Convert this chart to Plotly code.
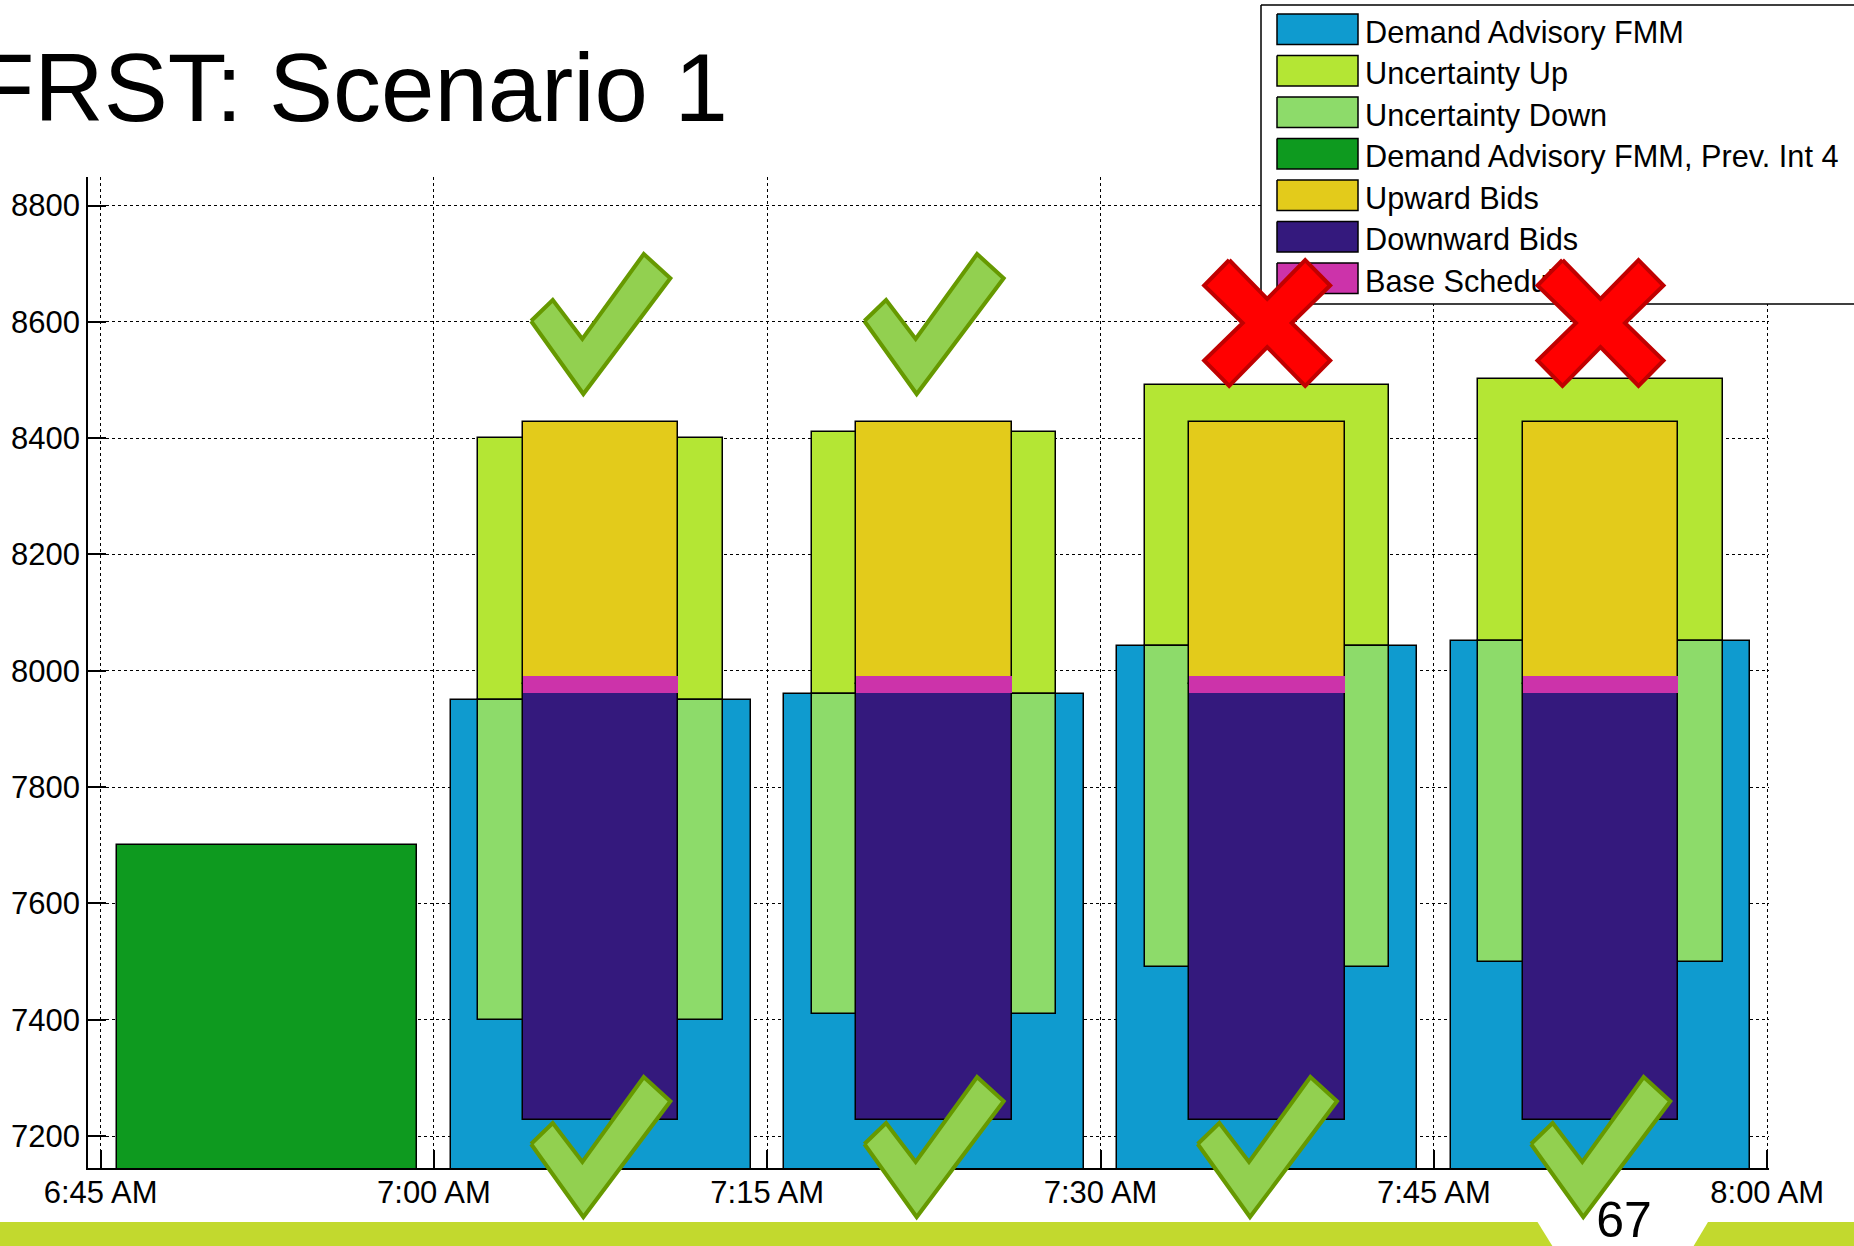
import plotly.graph_objects as go
from datetime import datetime, timedelta

# ---------------------------------------------------------------- data
interval_starts = ["06:45", "07:00", "07:15", "07:30", "07:45"]

# Demand advisory of the previous run (only the first interval)
prev_int4_demand = [7700, None, None, None, None]

# Demand advisory FMM and its uncertainty band (MW)
demand_fmm = [None, 7950, 7960, 8042, 8052]
uncertainty_up = [None, 450, 450, 450, 450]
uncertainty_down = [None, 550, 550, 552, 552]

# Bid stack: downward bids from the floor up to the base schedule,
# upward bids from the base schedule up to the ceiling
downward_bid_floor = [None, 7227, 7227, 7227, 7227]
base_schedule = [None, 7977, 7977, 7977, 7977]
upward_bid_ceiling = [None, 8427, 8427, 8427, 8427]

# Sufficiency test outcome per interval (upward / downward)
upward_test = [None, "pass", "pass", "fail", "fail"]
downward_test = [None, "pass", "pass", "pass", "pass"]

x_tick_times = ["06:45", "07:00", "07:15", "07:30", "07:45", "08:00"]
x_tick_labels = ["6:45 AM", "7:00 AM", "7:15 AM", "7:30 AM", "7:45 AM", "8:00 AM"]
y_tick_values = [7200, 7400, 7600, 7800, 8000, 8200, 8400, 8600, 8800]

legend_labels = [
    "Demand Advisory FMM",
    "Uncertainty Up",
    "Uncertainty Down",
    "Demand Advisory FMM, Prev. Int 4",
    "Upward Bids",
    "Downward Bids",
    "Base Schedule",
]

# ---------------------------------------------------------------- style
W, H = 1854, 1246
FONT = "Liberation Sans, Arial, Helvetica, sans-serif"

C_DEMAND = "#0F9BCF"
C_UNC_UP = "#B4E634"
C_UNC_DN = "#8DDB6A"
C_PREV = "#0E9A1F"
C_UP_BID = "#E3CB1B"
C_DN_BID = "#34197D"
C_BASE = "#CC33AA"
legend_colors = [C_DEMAND, C_UNC_UP, C_UNC_DN, C_PREV, C_UP_BID, C_DN_BID, C_BASE]

C_CHECK_FILL, C_CHECK_LINE = "#92D050", "#669900"
C_CROSS_FILL, C_CROSS_LINE = "#FF0000", "#C00000"
C_BAND = "#C2D92E"

# plot area in page pixels
PL, PR, PT, PB = 88, 1769, 177, 1168
DAY = datetime(2024, 1, 1)
X0 = DAY + timedelta(hours=6, minutes=44, seconds=26)
X1 = DAY + timedelta(hours=8, seconds=5)
Y_RANGE = [7145, 8849]

STEP = timedelta(minutes=15)
W_DEMAND = 13.5 * 60000   # bar widths in ms
W_UNC = 11 * 60000
W_BID = 7 * 60000
BASE_BAND = 29            # MW thickness of the base-schedule marker
EDGE = dict(color="black", width=1.5)


def t(hhmm):
    h, m = hhmm.split(":")
    return DAY + timedelta(hours=int(h), minutes=int(m))


centers = [t(s) + STEP / 2 for s in interval_starts]


def px_x(when):
    return PL + (when - X0) / (X1 - X0) * (PR - PL)


fig = go.Figure()


def add_bar(name, xs, tops, bases, width, color, line=EDGE):
    keep = [i for i, v in enumerate(tops) if v is not None]
    fig.add_trace(go.Bar(
        name=name,
        x=[xs[i] for i in keep],
        y=[tops[i] - bases[i] for i in keep],
        base=[bases[i] for i in keep],
        width=width,
        marker=dict(color=color, line=line),
        opacity=1,
        showlegend=False,
        hoverinfo="skip",
    ))


zeros = [0] * len(centers)
add_bar("Demand Advisory FMM, Prev. Int 4", centers, prev_int4_demand, zeros, W_DEMAND, C_PREV)
add_bar("Demand Advisory FMM", centers, demand_fmm, zeros, W_DEMAND, C_DEMAND)

unc_top = [d + u if d is not None else None for d, u in zip(demand_fmm, uncertainty_up)]
unc_bot = [d - u if d is not None else None for d, u in zip(demand_fmm, uncertainty_down)]
add_bar("Uncertainty Up", centers, unc_top, demand_fmm, W_UNC, C_UNC_UP)
add_bar("Uncertainty Down", centers, demand_fmm, unc_bot, W_UNC, C_UNC_DN)

add_bar("Downward Bids", centers, base_schedule, downward_bid_floor, W_BID, C_DN_BID)
add_bar("Upward Bids", centers, upward_bid_ceiling, base_schedule, W_BID, C_UP_BID)

bs_hi = [b + BASE_BAND / 2 if b is not None else None for b in base_schedule]
bs_lo = [b - BASE_BAND / 2 if b is not None else None for b in base_schedule]
add_bar("Base Schedule", centers, bs_hi, bs_lo, W_BID, C_BASE, line=dict(width=0))


# ---------------------------------------------------------------- overlay layer (page pixels)
def poly(xs, ys, fill, line_color=None, line_width=0):
    fig.add_trace(go.Scatter(
        x=list(xs) + [xs[0]], y=list(ys) + [ys[0]],
        mode="lines", fill="toself", fillcolor=fill,
        line=dict(color=line_color or fill, width=line_width),
        xaxis="x2", yaxis="y2", showlegend=False, hoverinfo="skip",
    ))


def text(x, y, s, size, pos):
    fig.add_trace(go.Scatter(
        x=[x], y=[y], mode="text", text=[s], textposition=pos,
        textfont=dict(family=FONT, size=size, color="black"),
        xaxis="x2", yaxis="y2", showlegend=False, hoverinfo="skip",
    ))


# footer band with the page-number notch
poly([0, 1537.5, 1553, 0], [1222, 1222, 1247, 1247], C_BAND)
poly([1708, 1860, 1860, 1693], [1222, 1222, 1247, 1247], C_BAND)
text(1624, 1224.5, "67", 50, "middle center")

# title
text(728, 96.7, "FRST: Scenario 1", 96, "middle left")

# legend box
poly([1261, 1870, 1870, 1261], [5, 5, 304, 304], "white", "black", 1.5)
for i, (lab, col) in enumerate(zip(legend_labels, legend_colors)):
    y0 = 14 + 41.5 * i
    poly([1277, 1358, 1358, 1277], [y0, y0, y0 + 30.5, y0 + 30.5], col, "black", 1.5)
    text(1365, 35 + 41.5 * i, lab, 30.7, "middle right")

CHECK = [(-69.5, 67), (-47.8, 46), (-18.2, 85), (43.2, 0), (69.8, 24.3), (-17.2, 140)]
CROSS = [(-38, -63), (0, -24), (38, -63), (63, -37.5), (24.5, 0), (63, 37.5),
         (38, 63), (0, 24), (-38, 63), (-63, 37.5), (-24.5, 0), (-63, -37.5)]


def check(cx, top):
    poly([cx + dx for dx, _ in CHECK], [top + dy for _, dy in CHECK],
         C_CHECK_FILL, C_CHECK_LINE, 4)


def cross(cx, cy):
    poly([cx + dx for dx, _ in CROSS], [cy + dy for _, dy in CROSS],
         C_CROSS_FILL, C_CROSS_LINE, 4)


for c, up, dn in zip(centers, upward_test, downward_test):
    cx = px_x(c)
    if up == "pass":
        check(cx, 254)
    elif up == "fail":
        cross(cx, 323)
    if dn == "pass":
        check(cx, 1077)

# ---------------------------------------------------------------- layout
axis_common = dict(
    showline=True, linecolor="black", linewidth=1.5, mirror=False,
    ticks="inside", ticklen=18, tickwidth=1.5, tickcolor="black",
    showgrid=True, gridcolor="black", gridwidth=1.2, griddash="dot",
    zeroline=False, automargin=False,
    tickfont=dict(family=FONT, size=31, color="black"),
)

fig.update_layout(
    template="none",
    width=W, height=H, autosize=False,
    margin=dict(l=0, r=0, t=0, b=0, autoexpand=False),
    paper_bgcolor="white", plot_bgcolor="rgba(0,0,0,0)",
    barmode="overlay", bargap=0,
    showlegend=False,
    font=dict(family=FONT, color="black"),
    xaxis=dict(
        type="date", range=[X0, X1], domain=[PL / W, PR / W],
        tickvals=[t(s) for s in x_tick_times], ticktext=x_tick_labels,
        ticklabelstandoff=-4,
        **axis_common,
    ),
    yaxis=dict(
        range=Y_RANGE, domain=[1 - PB / H, 1 - PT / H],
        tickvals=y_tick_values, ticktext=[str(v) for v in y_tick_values],
        **axis_common,
    ),
    xaxis2=dict(domain=[0, 1], range=[0, W], visible=False, anchor="y2",
                fixedrange=True, automargin=False),
    yaxis2=dict(domain=[0, 1], range=[H, 0], visible=False, anchor="x2",
                fixedrange=True, automargin=False),
)

fig.write_html("out.html", config={"displayModeBar": False})
